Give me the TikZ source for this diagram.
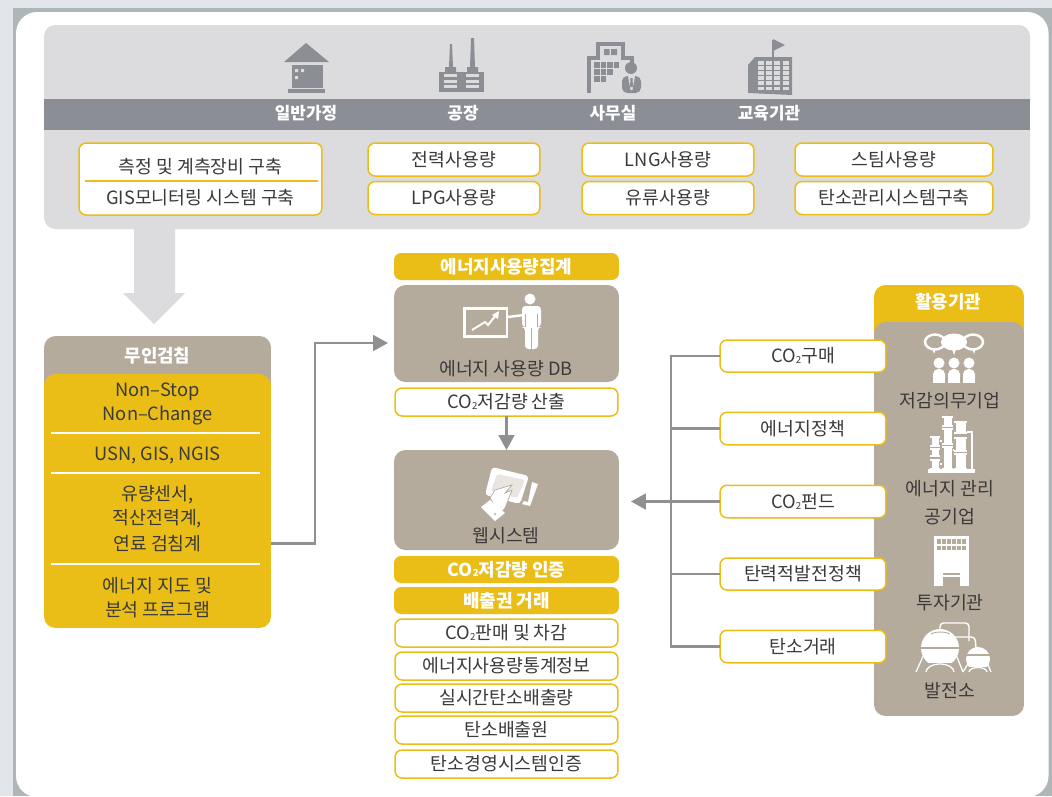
\documentclass[tikz,border=0pt]{standalone}
\usepackage{fontspec}
\setmainfont{Noto Sans CJK KR}
\usetikzlibrary{arrows.meta}
\definecolor{cback}{HTML}{E2E6EB}
\definecolor{cedge}{HTML}{AEB6B8}
\definecolor{cpanel}{HTML}{DCDCDE}
\definecolor{cband}{HTML}{8B8E95}
\definecolor{cgold}{HTML}{EBBE17}
\definecolor{cbrown}{HTML}{B5AB9C}
\definecolor{cink}{HTML}{3A3A3A}
\definecolor{cline}{HTML}{8F9191}
\newcommand{\cotwo}{CO\raisebox{-.4pt}{\fontsize{5.5pt}{6pt}\selectfont 2}}
\tikzset{
  base/.style={inner sep=0pt,outer sep=0pt,align=center,text=cink,font=\fontsize{10.4pt}{12pt}\selectfont},
  freetxt/.style={base,yshift=-.8pt},
  wbox/.style={base,draw=cgold,fill=white,line width=.85pt,rounded corners=4pt},
  topbox/.style={wbox,minimum width=3.44cm,minimum height=.66cm},
  midbox/.style={wbox,minimum width=4.46cm,minimum height=.56cm},
  sidebox/.style={wbox,minimum width=3.32cm,minimum height=.65cm},
  boldtxt/.style={base,text=white,font=\fontsize{10.2pt}{12pt}\selectfont\bfseries},
  goldbar/.style={boldtxt,fill=cgold,minimum width=4.5cm,minimum height=.54cm,rounded corners=4pt},
  brownbox/.style={base,fill=cbrown,minimum width=4.5cm,rounded corners=6.5pt},
  bandtxt/.style={base,text=white,font=\fontsize{9.6pt}{11pt}\selectfont\bfseries},
  gline/.style={cline,line width=1.3pt},
  garrow/.style={gline,-{Triangle[length=8.5pt,width=9pt]}},
}
\begin{document}
\begin{tikzpicture}[x=.02cm,y=-.02cm]
\useasboundingbox (0,0) rectangle (1052,796);
\clip (0,0) rectangle (1052,796);
% 바탕
\fill[cback] (0,0) rectangle (1052,796);
\fill[cedge] (13,8) rectangle (1052,796);
\fill[white,rounded corners=12pt] (16,12) rectangle (1048.5,797);
% 상단 패널
\fill[cpanel,rounded corners=6.5pt] (44,25) rectangle (1030,229);
\fill[cband] (44,99) rectangle (1030,130);
\node[bandtxt] (gajeong) at (306,113) {일반가정};
\node[bandtxt] (gongjang) at (463,113) {공장};
\node[bandtxt] (samusil) at (613,113) {사무실};
\node[bandtxt] (gyoyuk) at (769,113) {교육기관};
% 일반가정 아이콘
\fill[cband] (284,62) -- (306,43) -- (329,62) -- cycle;
\fill[cband] (292,65) rectangle (323,88);
\fill[cband] (288,89) rectangle (325,93);
\fill[cpanel] (295,69) rectangle (298,72) (301,69) rectangle (304,72) (295,76) rectangle (298,79);
% 공장 아이콘
\fill[cband] (449,67) -- (450,44) -- (452,44) -- (453,67) -- cycle;
\fill[cband] (470,67) -- (471,38) -- (474,38) -- (475,67) -- cycle;
\fill[cband] (445,67) rectangle (456,74) (467,67) rectangle (478,74);
\fill[cband] (439,72) rectangle (484,92);
\foreach \y in {74,80,85}{
  \fill[cpanel] (444,\y) rectangle (457,\y+3);
  \fill[cpanel] (466,\y) rectangle (479,\y+3);
}
% 사무실 아이콘
\draw[cband,line width=1.8pt] (589,93) -- (589,58) -- (598,58) -- (598,44) -- (623,44) -- (623,58) -- (632,58) -- (632,63);
\fill[cband] (604,49) rectangle (609.5,55) (611,49) rectangle (617,55);
\foreach \x in {594,600.5,607,613.5}{\fill[cband] (\x,62) rectangle (\x+5.7,67.7);}
\foreach \x in {594,600.5,607}{\fill[cband] (\x,69) rectangle (\x+5.7,74.7);}
\foreach \x in {594,600.5}{\fill[cband] (\x,76) rectangle (\x+5.7,81.7);}
\fill[cband] (631,68) circle (6);
\fill[cband,rounded corners=3pt] (622,93) -- (622,76) -- (641,76) -- (641,93) -- cycle;
\fill[cpanel] (628,76) -- (635,76) -- (632.5,90) -- (630.5,90) -- cycle;
\fill[cband] (630.5,78) -- (632.5,78) -- (633,87) -- (630,87) -- cycle;
% 교육기관 아이콘
\draw[cband,line width=.7pt] (773,40) -- (773,58);
\fill[cband] (773,39) -- (785,45) -- (773,51) -- cycle;
\fill[cband] (748,65) -- (755,57) -- (792,57) -- (792,95) -- (748,93) -- cycle;
\foreach \i in {0,...,3}{
  \foreach \j in {0,...,5}{
    \fill[cpanel] (758+8.2*\i,61+5.1*\j) rectangle (764+8.2*\i,64.6+5.1*\j);
  }
}
% 상단 항목
\node[wbox,minimum width=4.86cm,minimum height=1.44cm] (gubuk) at (200.5,179) {};
\draw[cgold,line width=.7pt] (85,181) -- (318,181);
\node[freetxt] (cheukjeong) at (200.5,165) {측정 및 계측장비 구축};
\node[freetxt] (gisbox) at (200.5,196.5) {GIS모니터링 시스템 구축};
\node[topbox] (jeonryeok) at (454,159.5) {전력사용량};
\node[topbox] (lpg) at (454,198) {LPG사용량};
\node[topbox] (lng) at (668,159.5) {LNG사용량};
\node[topbox] (yuryu) at (668,198) {유류사용량};
\node[topbox,minimum width=3.96cm] (seutim) at (894,159.5) {스팀사용량};
\node[topbox,minimum width=3.96cm] (tanso) at (894,198) {탄소관리시스템구축};
% 큰 화살표
\fill[cpanel] (134,229) -- (175,229) -- (175,293) -- (185,293) -- (154,324) -- (123,293) -- (134,293) -- cycle;
% 무인검침
\node[brownbox,minimum width=4.54cm,minimum height=1.28cm] (muin) at (157.5,368) {};
\node[boldtxt] (muintxt) at (157.5,356) {무인검침};
\node[base,fill=cgold,minimum width=4.54cm,minimum height=5.08cm,rounded corners=6.5pt] (gumchim) at (157.5,501) {};
\foreach \y in {433,473,564}{\draw[white,line width=.6pt] (51,\y) -- (260,\y);}
\node[freetxt] (nonstop) at (157.5,390) {Non–Stop};
\node[freetxt] (nonchange) at (157.5,414) {Non–Change};
\node[freetxt] (usn) at (157.5,454) {USN, GIS, NGIS};
\node[freetxt] (yuryang) at (157.5,493) {유량센서,};
\node[freetxt] (jeoksan) at (157.5,517) {적산전력계,};
\node[freetxt] (yeollyo) at (157.5,542) {연료 검침계};
\node[freetxt] (jido) at (157.5,584) {에너지 지도 및};
\node[freetxt] (bunseok) at (157.5,608) {분석 프로그램};
% 가운데 열
\node[goldbar] (jipgye) at (506.5,266.5) {에너지사용량집계};
\node[brownbox,minimum height=1.94cm] (db) at (506.5,333.5) {};
\node[freetxt] (dbtxt) at (506,367) {에너지 사용량 DB};
\node[midbox] (sanchul) at (506.5,402) {\cotwo{}저감량 산출};
\node[brownbox,minimum height=2cm] (web) at (506.5,500) {};
\node[freetxt] (webtxt) at (506,534) {웹시스템};
\node[goldbar] (injeung) at (506.5,569.5) {\cotwo{}저감량 인증};
\node[goldbar] (baechul) at (506.5,600.5) {배출권 거래};
\node[midbox] (panmae) at (506.5,633) {\cotwo{}판매 및 차감};
\node[midbox] (tonggye) at (506.5,666) {에너지사용량통계정보};
\node[midbox] (silsigan) at (506.5,698) {실시간탄소배출량};
\node[midbox] (baechulwon) at (506.5,730) {탄소배출원};
\node[midbox] (gyeongyeong) at (506.5,764) {탄소경영시스템인증};
% 발표 아이콘
\draw[white,line width=1.7pt] (464.5,308.5) rectangle (507,336);
\draw[white,line width=1.1pt] (472,330) -- (485,322) -- (488,325) -- (496,315);
\fill[white] (499,311) -- (498,319) -- (492,315) -- cycle;
\fill[white] (530,299) circle (5.5);
\fill[white,rounded corners=2pt] (522,327) -- (522,306) -- (541,306) -- (541,327) -- (538,327) -- (538,349) -- (525,349) -- (525,327) -- cycle;
\draw[white,line width=1.4pt] (508,317) -- (524,315);
\draw[cbrown,line width=.5pt] (531.5,328) -- (531.5,350);
\draw[cbrown,line width=.4pt] (525.5,314) -- (525.5,327) (537.5,314) -- (537.5,327);
% 태블릿 아이콘
\fill[white,rounded corners=2pt] (492,467) -- (529,476) -- (520,504) -- (485,495) -- cycle;
\fill[cbrown!30!white,rounded corners=1pt] (497,474) -- (525,480) -- (517,498) -- (491,491) -- cycle;
\fill[white] (532,482) -- (538,484) -- (530,506) -- (522,504) -- (524,501) -- (528,502) -- cycle;
\filldraw[white,draw=cbrown,line width=.4pt] (490,498) -- (495,490) -- (512,485) -- (505,493) -- (512,490) -- (505,508) -- (500,514) -- cycle;
\fill[white] (481,507) -- (490,500) -- (505,513) -- (495,521) -- cycle;
\fill[cbrown] (495,514) circle (1.2);
% 활용기관
\node[base,fill=cgold,minimum width=3cm,minimum height=1.3cm,rounded corners=6.5pt] (hwalyong) at (949,317.5) {};
\node[boldtxt] (hwalyongtxt) at (948,302) {활용기관};
\node[brownbox,minimum width=3cm,minimum height=7.88cm] (gigwan) at (949,519) {};
\node[freetxt] (uimu) at (950,399) {저감의무기업};
\node[freetxt] (gwalli) at (950,487) {에너지 관리};
\node[freetxt] (gong) at (950,515) {공기업};
\node[freetxt] (tuja) at (950,601) {투자기관};
\node[freetxt] (baljeon) at (950,689) {발전소};
% 말풍선과 사람
\draw[white,line width=1.4pt] (935,342) ellipse (10 and 7.5);
\draw[white,line width=1.4pt] (973,342) ellipse (10 and 7.5);
\fill[white] (954,342) ellipse (13 and 8.5);
\fill[white] (932,348) -- (936,348) -- (934,354) -- cycle;
\fill[white] (952,349) -- (956,349) -- (954,355) -- cycle;
\fill[white] (972,348) -- (976,348) -- (974,354) -- cycle;
\foreach \x in {939,954,969}{
  \fill[white] (\x,363) circle (5.5);
  \fill[white,rounded corners=3pt] (\x-6,382.5) -- (\x-6,369) -- (\x+6,369) -- (\x+6,382.5) -- cycle;
  \fill[white] (\x-6,378) rectangle (\x+6,382.5);
}
% 플랜트 기둥
\fill[white] (928,469) rectangle (975,473);
\foreach \a/\b/\c/\d in {930/940/436/447,930/940/448/457,930/940/459/470,
  942/953/416/427,942/953/428/445,942/953/446/470,
  954/967/421/434,954/967/437/452,954/967/453/470}{
  \fill[white] (\a+1.5,\c) rectangle (\b-1.5,\d);
  \fill[white] (\a,\c) rectangle (\b,\c+1.8);
  \fill[white] (\a,\d-1.8) rectangle (\b,\d);
}
\draw[white,line width=.8pt] (967,432) -- (972,432) -- (972,470);
\draw[white,line width=.8pt] (940,441) -- (942,441) (940,464) -- (942,464) (953,450) -- (954,450);
% 건물 아이콘
\fill[white] (934,536) rectangle (969,586);
\foreach \i in {0,...,5}{
  \foreach \j in {0,1}{
    \fill[cbrown] (937+5*\i,539+6.5*\j) rectangle (941+5*\i,543.5+6.5*\j);
  }
}
\fill[cbrown] (943,577) rectangle (960,586);
\fill[cbrown] (943,573) rectangle (960,575);
% 발전소 아이콘
\draw[white,line width=.8pt,rounded corners=2pt] (940,633) -- (940,623) -- (969,623) -- (969,641);
\draw[white,line width=.8pt,rounded corners=2pt] (948,637) -- (975,637) -- (976,648);
\fill[white] (940,648) circle (19);
\fill[cbrown] (918,663) rectangle (962,669);
\draw[cbrown,line width=.9pt] (920,648) -- (960,648);
\draw[cbrown,line width=.5pt] (931,634) arc (200:340:10 and 3);
\draw[white,line width=.7pt] (925,652) -- (916,672);
\draw[white,line width=.7pt] (955,652) -- (963,672);
\draw[white,line width=.7pt] (926,672) arc (180:360:14 and 8);
\fill[white] (978,659) circle (12);
\fill[cbrown] (964,667) rectangle (992,672);
\draw[cbrown,line width=.7pt] (966,655) -- (990,655);
\draw[white,line width=.7pt] (969,662) -- (963,672) (987,662) -- (991,672);
\draw[white,line width=.7pt] (969,672) arc (180:360:9 and 4.5);
% 오른쪽 항목
\node[sidebox,minimum height=.64cm] (gumae) at (803,356) {\cotwo{}구매};
\node[sidebox] (jeongchaek) at (803,428.5) {에너지정책};
\node[sidebox] (peondeu) at (803,501.5) {\cotwo{}펀드};
\node[sidebox,minimum height=.64cm] (tanryeok) at (803,574) {탄력적발전정책};
\node[sidebox] (georae) at (803,646.5) {탄소거래};
% 연결선
\coordinate (trunk) at (671,501.5);
\coordinate (dbin) at (394,343);
\draw[gline] (gumae.west) -| (trunk);
\draw[gline] (georae.west) -| (trunk);
\draw[gline] (jeongchaek.west) -- (trunk |- jeongchaek.west);
\draw[gline] (tanryeok.west) -- (trunk |- tanryeok.west);
\draw[garrow,shorten >=.24cm] (peondeu.west) -- (web.east |- peondeu.west);
\draw[garrow,shorten >=.12cm] (gumchim.east |- yeollyo) -- ++(44,0) |- (dbin);
\draw[garrow] (sanchul.south) -- (web.north);
\end{tikzpicture}
\end{document}
